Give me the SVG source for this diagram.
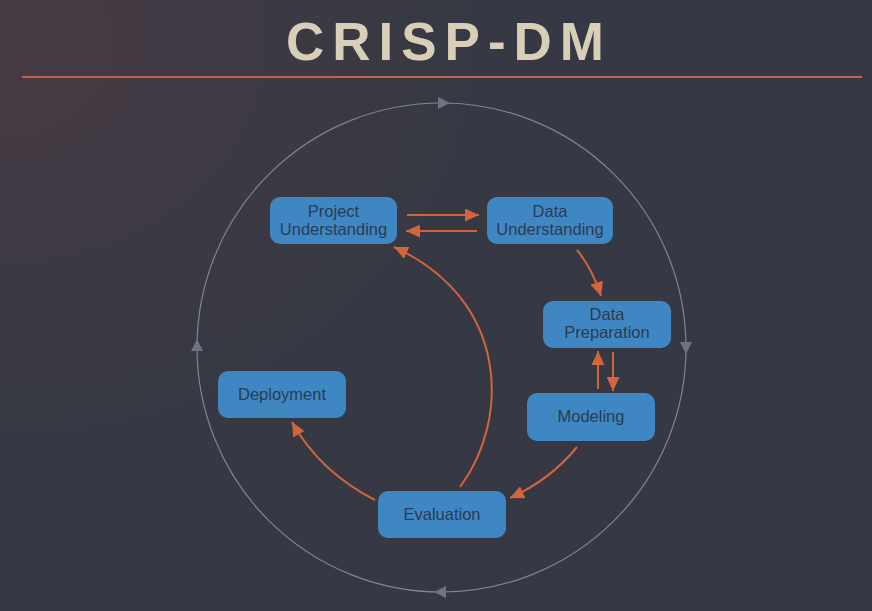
<svg xmlns="http://www.w3.org/2000/svg" width="872" height="611" viewBox="0 0 872 611">
<defs>
<radialGradient id="bg" cx="0" cy="0" r="1" gradientUnits="userSpaceOnUse" gradientTransform="translate(0,40) scale(480,400)">
<stop offset="0" stop-color="#473a43"/>
<stop offset="1" stop-color="#363943"/>
</radialGradient>
<marker id="ah" viewBox="0 0 14 13" refX="14" refY="6.5" markerWidth="14" markerHeight="13" markerUnits="userSpaceOnUse" orient="auto">
<path d="M0,0 L14,6.5 L0,13 Z" fill="#d3643c"/>
</marker>
<marker id="gh" viewBox="0 0 12 12" refX="6" refY="6" markerWidth="12" markerHeight="12" markerUnits="userSpaceOnUse" orient="auto">
<path d="M0,0 L12,6 L0,12 Z" fill="#6c7586"/>
</marker>
<style>
.box{fill:#3f87c3;}
.lbl{font-family:"Liberation Sans",Arial,sans-serif;font-size:16.5px;fill:#2b3b52;text-anchor:middle;}
.oa{fill:none;stroke:#d3643c;stroke-width:2;marker-end:url(#ah);}
.ga{fill:none;stroke:none;marker-end:url(#gh);}
</style>
</defs>
<rect width="872" height="611" fill="url(#bg)"/>
<text x="286" y="60" textLength="318" lengthAdjust="spacing" font-family="'Liberation Sans',Arial,sans-serif" font-weight="bold" font-size="53" fill="#d9cfb8">CRISP-DM</text>
<line x1="22" y1="77" x2="862" y2="77" stroke="#c0634a" stroke-width="2"/>
<g id="cycle">
<circle cx="441.5" cy="347.5" r="244.5" fill="none" stroke="#7f8594" stroke-width="1.2"/>
<path class="ga" d="M438,103 L444,103"/>
<path class="ga" d="M686,342 L686,348"/>
<path class="ga" d="M446,592 L440,592"/>
<path class="ga" d="M197,351 L197,345"/>
</g>
<g id="connectors">
<path class="oa" d="M407,215 L479,215"/>
<path class="oa" d="M477,231 L406,231"/>
<path class="oa" d="M577,250 Q592,268 601,296"/>
<path class="oa" d="M598,389 L598,351"/>
<path class="oa" d="M613,352 L613,391"/>
<path class="oa" d="M577,447 Q550,480 510,498"/>
<path class="oa" d="M375,500 Q320,472 292,422"/>
<path class="oa" d="M460,487 C510,420 510,300 394,247"/>
</g>
<g id="project-understanding">
<rect class="box" x="270" y="197" width="127" height="47" rx="10"/>
<text class="lbl" x="333.5" y="217">Project</text>
<text class="lbl" x="333.5" y="235">Understanding</text>
</g>
<g id="data-understanding">
<rect class="box" x="487" y="197" width="126" height="47" rx="10"/>
<text class="lbl" x="550" y="217">Data</text>
<text class="lbl" x="550" y="235">Understanding</text>
</g>
<g id="data-preparation">
<rect class="box" x="543" y="301" width="128" height="47" rx="10"/>
<text class="lbl" x="607" y="320">Data</text>
<text class="lbl" x="607" y="338">Preparation</text>
</g>
<g id="modeling">
<rect class="box" x="527" y="393" width="128" height="48" rx="10"/>
<text class="lbl" x="591" y="422">Modeling</text>
</g>
<g id="deployment">
<rect class="box" x="218" y="371" width="128" height="47" rx="10"/>
<text class="lbl" x="282" y="400">Deployment</text>
</g>
<g id="evaluation">
<rect class="box" x="378" y="491" width="128" height="47" rx="10"/>
<text class="lbl" x="442" y="520">Evaluation</text>
</g>
</svg>
